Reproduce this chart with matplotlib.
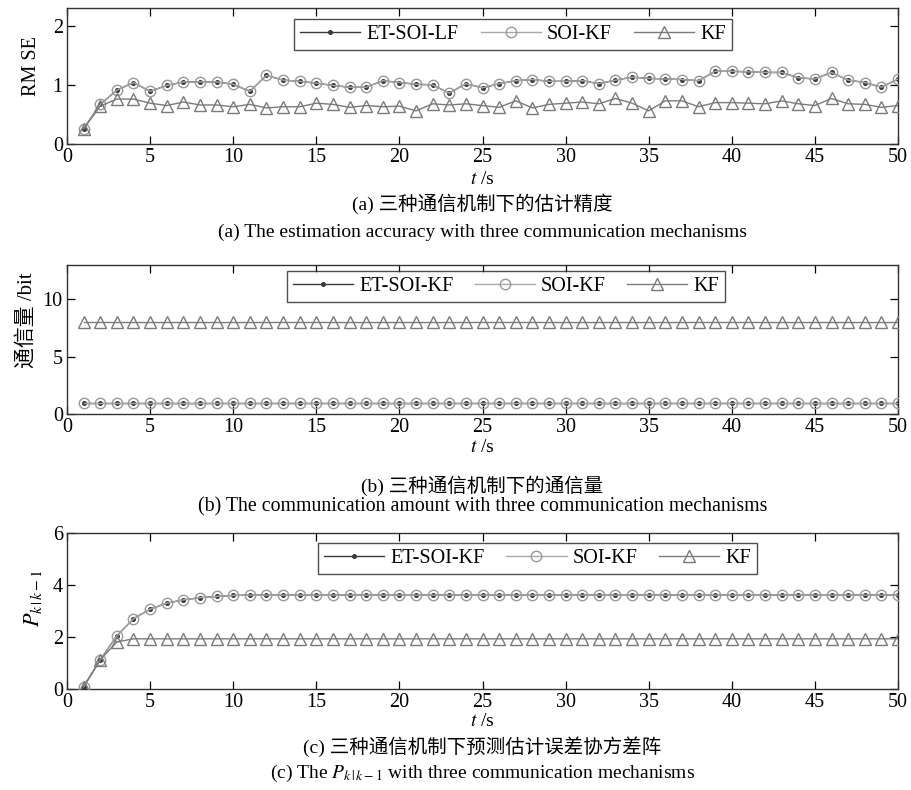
import numpy as np
import matplotlib
matplotlib.use("Agg")
import matplotlib.pyplot as plt

plt.rcParams['font.family'] = ['Liberation Serif', 'Noto Sans CJK SC']
plt.rcParams['mathtext.fontset'] = 'stix'

t = np.arange(1, 51)

# (a) RMSE
rmse_soi = [0.26, 0.67, 0.91, 1.04, 0.89, 0.99, 1.05, 1.05, 1.05, 1.01,
            0.89, 1.16, 1.08, 1.06, 1.03, 0.99, 0.96, 0.96, 1.07, 1.04,
            1.01, 1.00, 0.86, 1.02, 0.95, 1.02, 1.07, 1.09, 1.06, 1.06,
            1.07, 1.02, 1.08, 1.13, 1.11, 1.10, 1.09, 1.07, 1.23, 1.23,
            1.22, 1.21, 1.21, 1.12, 1.10, 1.21, 1.08, 1.04, 0.96, 1.10]
rmse_et = list(rmse_soi)
rmse_kf = [0.26, 0.64, 0.76, 0.76, 0.69, 0.65, 0.71, 0.66, 0.66, 0.63,
           0.67, 0.61, 0.63, 0.63, 0.69, 0.67, 0.62, 0.65, 0.63, 0.64,
           0.56, 0.68, 0.66, 0.68, 0.65, 0.62, 0.73, 0.61, 0.67, 0.69,
           0.71, 0.68, 0.77, 0.69, 0.56, 0.73, 0.73, 0.63, 0.70, 0.70,
           0.69, 0.68, 0.73, 0.68, 0.65, 0.77, 0.68, 0.67, 0.62, 0.65]

# (b) communication amount (bit)
comm_et = [1] * 50
comm_soi = [1] * 50
comm_kf = [8] * 50

# (c) prediction error covariance
p_soi = [0.09, 1.12, 2.05, 2.70, 3.07, 3.30, 3.43, 3.51, 3.56, 3.60] + [3.61] * 40
p_et = list(p_soi)
p_kf = [0.09, 1.12, 1.81, 1.93] + [1.93] * 46

labels_a = ["ET-SOI-LF", "SOI-KF", "KF"]
labels_bc = ["ET-SOI-KF", "SOI-KF", "KF"]

W, H = 911, 790
fig = plt.figure(figsize=(W / 100, H / 100), dpi=100)


def axes_px(left, top, right, bottom):
    return fig.add_axes([left / W, 1 - bottom / H, (right - left) / W, (bottom - top) / H])


def draw(ax, et, soi, kf, labels, ylim, yticks, leg_box):
    ax.plot(t, et, color='#3a3a3a', lw=1.0, marker='o', ms=2.6,
            mfc='#3a3a3a', mec='#3a3a3a', label=labels[0], zorder=2)
    ax.plot(t, soi, color='#a8a8a8', lw=1.0, marker='o', ms=7.5,
            mfc='none', mec='#9a9a9a', mew=1.0, label=labels[1], zorder=3)
    ax.plot(t, kf, color='#7a7a7a', lw=1.0, marker='^', ms=8.5,
            mfc='none', mec='#7a7a7a', mew=1.0, label=labels[2], zorder=3)
    ax.set_xlim(0, 50)
    ax.set_ylim(*ylim)
    ax.set_xticks(np.arange(0, 51, 5))
    ax.set_yticks(yticks)
    ax.tick_params(direction='in', top=True, right=True, length=6,
                   width=0.9, labelsize=14.5, pad=3)
    for s in ax.spines.values():
        s.set_linewidth(1.0)
        s.set_color('#333333')
    leg = ax.legend(loc='upper left', bbox_to_anchor=leg_box, mode='expand',
                    ncol=3, fontsize=14.5, frameon=True, fancybox=False,
                    handlelength=3.0, handletextpad=0.3, borderpad=0.3,
                    columnspacing=1.2, borderaxespad=0)
    leg.get_frame().set_edgecolor('#222222')
    leg.get_frame().set_linewidth(1.0)
    return ax


def ax_box(l, r, tp, bt, x0, x1, y0, y1):
    # legend box in axes fraction from pixel extents
    return ((x0 - l) / (r - l), (bt - y1) / (bt - tp),
            (x1 - x0) / (r - l), (y1 - y0) / (bt - tp))


# panel (a)
L, R = 67, 898
ax1 = axes_px(L, 8, R, 144)
draw(ax1, rmse_et, rmse_soi, rmse_kf, labels_a, (0, 2.3), [0, 1, 2],
     ax_box(L, R, 8, 144, 294, 732, 19, 55))
ax1.set_ylabel("RM SE", fontsize=14.5)
ax1.yaxis.set_label_coords(-0.031, 0.57)

# panel (b)
ax2 = axes_px(L, 265, R, 414)
draw(ax2, comm_et, comm_soi, comm_kf, labels_bc, (0, 13), [0, 5, 10],
     ax_box(L, R, 265, 414, 287, 725, 271, 306))
ax2.set_ylabel("通信量 /bit", fontsize=15)
ax2.yaxis.set_label_coords(-0.037, 0.63)

# panel (c)
ax3 = axes_px(L, 533, R, 689)
draw(ax3, p_et, p_soi, p_kf, labels_bc, (0, 6), [0, 2, 4, 6],
     ax_box(L, R, 533, 689, 318, 757, 543, 579))
ax3.set_ylabel(r"$P_{k\,|\,k-1}$", fontsize=16)
ax3.yaxis.set_label_coords(-0.028, 0.58)


def ftext(x, y, s, size):
    fig.text(x / W, 1 - y / H, s, ha='center', va='center', fontsize=size)


cx = (L + R) / 2
ftext(cx, 180, r"$t$ /s", 14)
ftext(cx, 204, "(a) 三种通信机制下的估计精度", 14)
ftext(cx, 232, "(a) The estimation accuracy with three communication mechanisms", 14)

ftext(cx, 447, r"$t$ /s", 14)
ftext(cx, 486, "(b) 三种通信机制下的通信量", 14)
ftext(cx, 507, "(b) The communication amount with three communication mechanisms", 14.3)

ftext(cx, 721, r"$t$ /s", 14)
ftext(cx, 747, "(c) 三种通信机制下预测估计误差协方差阵", 14)
ftext(cx, 773, r"(c) The $P_{k\,|\,k-1}$ with three communication mechanisms", 14)

fig.savefig("out.png", dpi=100)
